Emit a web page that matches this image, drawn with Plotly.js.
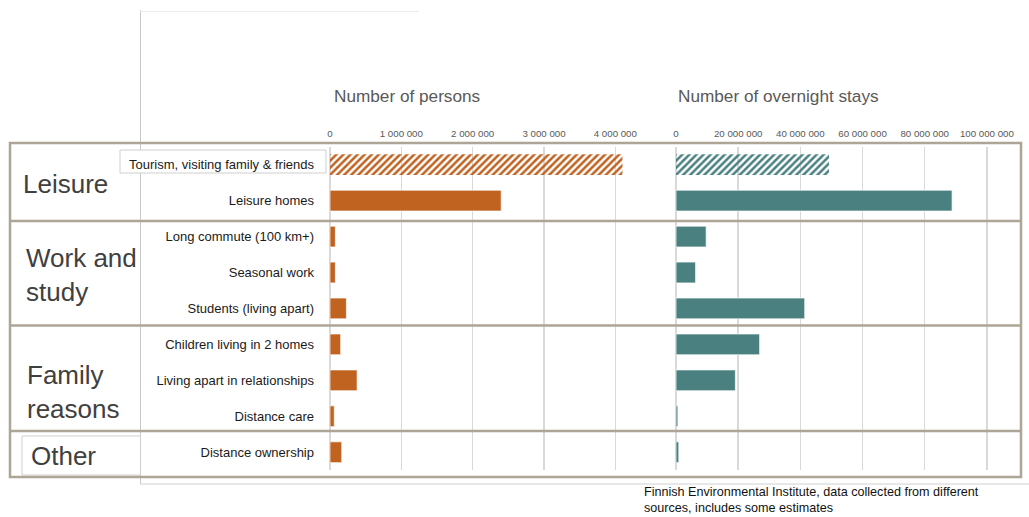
<!DOCTYPE html>
<html>
<head>
<meta charset="utf-8">
<script src="https://cdn.plot.ly/plotly-3.0.1.min.js"></script>
<style>html,body{margin:0;padding:0;background:#fff;}#chart{width:1029px;height:517px;}</style>
</head>
<body>
<div id="chart"></div>
<script>
// ---- data ----
const categories = [
  "Tourism, visiting family & friends",
  "Leisure homes",
  "Long commute (100 km+)",
  "Seasonal work",
  "Students (living apart)",
  "Children living in 2 homes",
  "Living apart in relationships",
  "Distance care",
  "Distance ownership"
];
const persons = [4100000, 2400000, 75000, 75000, 230000, 150000, 380000, 60000, 165000];
const overnightStays = [49200000, 88800000, 9700000, 6300000, 41400000, 26900000, 19100000, 600000, 900000];
const estimated = [true, false, false, false, false, false, false, false, false];
const groupLabels = ["Leisure", "Work and<br>study", "Family<br>reasons", "Other"];
const leftTitle = "Number of persons";
const rightTitle = "Number of overnight stays";
const sourceNote = "Finnish Environmental Institute, data collected from different<br>sources, includes some estimates";

// ---- helpers ----
const W = 1029, H = 517;
const px = x => x / W;
const py = y => 1 - y / H;
const FONT = "Liberation Sans, Arial, sans-serif";
const ORANGE = "#C06220";
const TEAL = "#4A8080";
const BOX = "#ADA596";

const patternShapes = estimated.map(e => e ? "/" : "");
const lineWidths = estimated.map(e => e ? 0 : 1);

const traces = [
  {
    type: "bar", orientation: "h",
    x: persons, y: categories,
    xaxis: "x", yaxis: "y",
    marker: {
      color: ORANGE,
      line: {color: "rgba(255,255,255,0.7)", width: lineWidths},
      pattern: {shape: patternShapes, fillmode: "replace", size: 5, solidity: 0.5}
    },
    hoverinfo: "x+y", showlegend: false
  },
  {
    type: "bar", orientation: "h",
    x: overnightStays, y: categories,
    xaxis: "x2", yaxis: "y",
    marker: {
      color: TEAL,
      line: {color: "rgba(255,255,255,0.7)", width: lineWidths},
      pattern: {shape: patternShapes, fillmode: "replace", size: 5, solidity: 0.5}
    },
    hoverinfo: "x+y", showlegend: false
  }
];

const yTop = 146.7, yBot = 470.2;

const layout = {
  width: W, height: H,
  margin: {l: 0, r: 0, t: 0, b: 0},
  paper_bgcolor: "#fff", plot_bgcolor: "rgba(0,0,0,0)",
  font: {family: FONT, color: "#222"},
  separators: ". ",
  bargap: 0.42,
  xaxis: {
    domain: [px(330), px(651)], anchor: "y", side: "top",
    range: [0, 4500000], dtick: 1000000, tickformat: ",",
    showgrid: true, gridcolor: "#d9d9d9", gridwidth: 1.5,
    zeroline: true, zerolinecolor: "#d9d9d9", zerolinewidth: 1.5,
    showline: false, ticks: "", ticklabelstandoff: 7,
    tickfont: {size: 9.7, color: "#595959", family: FONT}
  },
  xaxis2: {
    domain: [px(676), px(1018)], anchor: "y", side: "top",
    range: [0, 110000000], dtick: 20000000, tickformat: ",",
    showgrid: true, gridcolor: "#d9d9d9", gridwidth: 1.5,
    zeroline: true, zerolinecolor: "#d9d9d9", zerolinewidth: 1.5,
    showline: false, ticks: "", ticklabelstandoff: 7,
    tickfont: {size: 9.7, color: "#595959", family: FONT}
  },
  yaxis: {
    domain: [py(yBot), py(yTop)], anchor: "x",
    type: "category", range: [categories.length - 0.5, -0.5],
    showgrid: false, zeroline: false, showline: false, ticks: "",
    ticklabelstandoff: 15,
    tickfont: {size: 13, color: "#1a1a1a", family: FONT}
  },
  shapes: [
    // thin frame lines of the underlying slide chart
    {type: "line", xref: "paper", yref: "paper", x0: px(140.5), x1: px(140.5), y0: py(10), y1: py(484), line: {color: "#c8c8c8", width: 1}, layer: "below"},
    {type: "line", xref: "paper", yref: "paper", x0: px(140), x1: px(419), y0: py(11.5), y1: py(11.5), line: {color: "#ececec", width: 1}, layer: "below"},
    {type: "line", xref: "paper", yref: "paper", x0: px(140), x1: px(1029), y0: py(484), y1: py(484), line: {color: "#d0d0d0", width: 1}, layer: "below"},
    // label boxes
    {type: "rect", xref: "paper", yref: "paper", x0: px(120), x1: px(326), y0: py(150), y1: py(173), line: {color: "#cfcfcf", width: 1}, fillcolor: "#fff", layer: "below"},
    {type: "rect", xref: "paper", yref: "paper", x0: px(22), x1: px(140.5), y0: py(436), y1: py(475), line: {color: "#cfcfcf", width: 1}, fillcolor: "#fff", layer: "below"},
    // group frame
    {type: "rect", xref: "paper", yref: "paper", x0: px(10), x1: px(1021), y0: py(143), y1: py(477), line: {color: BOX, width: 2.5}, fillcolor: "rgba(0,0,0,0)", layer: "above"},
    {type: "line", xref: "paper", yref: "paper", x0: px(10), x1: px(1021), y0: py(221), y1: py(221), line: {color: BOX, width: 2.5}, layer: "above"},
    {type: "line", xref: "paper", yref: "paper", x0: px(10), x1: px(1021), y0: py(325.5), y1: py(325.5), line: {color: BOX, width: 2.5}, layer: "above"},
    {type: "line", xref: "paper", yref: "paper", x0: px(10), x1: px(1021), y0: py(431), y1: py(431), line: {color: BOX, width: 2.5}, layer: "above"}
  ],
  annotations: [
    {text: leftTitle, xref: "paper", yref: "paper", x: px(332), y: py(96), xanchor: "left", yanchor: "middle", showarrow: false, font: {size: 17.2, color: "#595959", family: FONT}},
    {text: rightTitle, xref: "paper", yref: "paper", x: px(676), y: py(96), xanchor: "left", yanchor: "middle", showarrow: false, font: {size: 17.2, color: "#595959", family: FONT}},
    {text: groupLabels[0], xref: "paper", yref: "paper", x: px(21), y: py(184), xanchor: "left", yanchor: "middle", showarrow: false, font: {size: 26, color: "#404040", family: FONT}},
    {text: groupLabels[1], xref: "paper", yref: "paper", x: px(24), y: py(275), xanchor: "left", yanchor: "middle", align: "left", showarrow: false, font: {size: 26, color: "#404040", family: FONT}},
    {text: groupLabels[2], xref: "paper", yref: "paper", x: px(25), y: py(392), xanchor: "left", yanchor: "middle", align: "left", showarrow: false, font: {size: 26, color: "#404040", family: FONT}},
    {text: groupLabels[3], xref: "paper", yref: "paper", x: px(29), y: py(456), xanchor: "left", yanchor: "middle", showarrow: false, font: {size: 26, color: "#404040", family: FONT}},
    {text: sourceNote, xref: "paper", yref: "paper", x: px(643), y: py(484), xanchor: "left", yanchor: "top", align: "left", showarrow: false, borderpad: 0, font: {size: 12.6, color: "#111", family: FONT}}
  ]
};

Plotly.newPlot("chart", traces, layout, {displayModeBar: false, staticPlot: true});
</script>
</body>
</html>
